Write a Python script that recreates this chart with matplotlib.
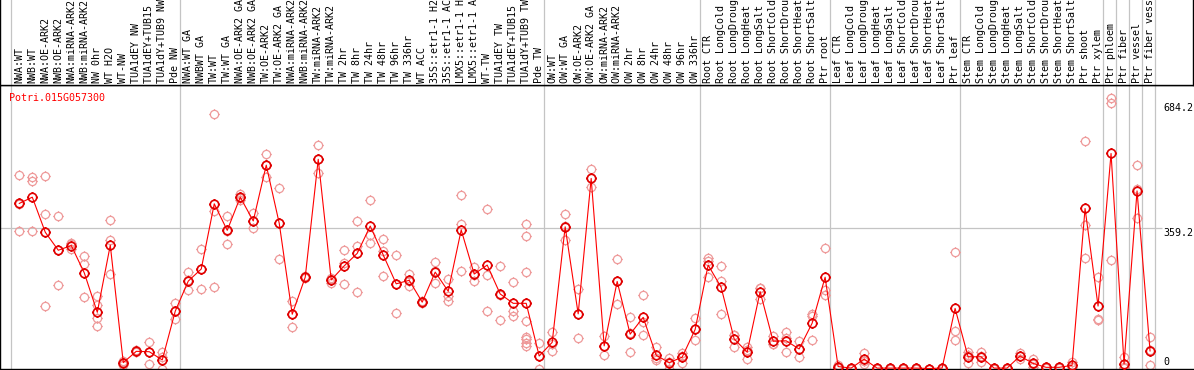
import numpy as np
import matplotlib
matplotlib.use("Agg")
import matplotlib.pyplot as plt
from matplotlib.path import Path

gene = "Potri.015G057300"

labels = [
    "NWA:WT", "NWB:WT", "NWA:OE-ARK2", "NWB:OE-ARK2", "NWA:miRNA-ARK2",
    "NWB:miRNA-ARK2", "NW 0hr", "WT H2O", "WT-NW", "TUA1dEY NW",
    "TUA1dEY+TUB15 NW", "TUA1dY+TUB9 NW", "Pde NW",
    "NWA:WT GA", "NWBWT GA", "TW:WT", "TW:WT GA", "NWA:OE-ARK2 GA",
    "NWB:OE-ARK2 GA", "TW:OE-ARK2", "TW:OE-ARK2 GA", "NWA:miRNA-ARK2 GA",
    "NWB:miRNA-ARK2 GA", "TW:miRNA-ARK2", "TW:miRNA-ARK2 GA", "TW 2hr",
    "TW 8hr", "TW 24hr", "TW 48hr", "TW 96hr", "TW 336hr", "WT ACC",
    "35S::etr1-1 H2O", "35S::etr1-1 ACC", "LMX5::etr1-1 H2O",
    "LMX5::etr1-1 ACC", "WT-TW", "TUA1dEY TW", "TUA1dEY+TUB15 TW",
    "TUA1dY+TUB9 TW", "Pde TW",
    "OW:WT", "OW:WT GA", "OW:OE-ARK2", "OW:OE-ARK2 GA", "OW:miRNA-ARK2",
    "OW:miRNA-ARK2 GA", "OW 2hr", "OW 8hr", "OW 24hr", "OW 48hr", "OW 96hr",
    "OW 336hr",
    "Root CTR", "Root LongCold", "Root LongDrought", "Root LongHeat",
    "Root LongSalt", "Root ShortCold", "Root ShortDrought", "Root ShortHeat",
    "Root ShortSalt", "Ptr root",
    "Leaf CTR", "Leaf LongCold", "Leaf LongDrought", "Leaf LongHeat",
    "Leaf LongSalt", "Leaf ShortCold", "Leaf ShortDrought", "Leaf ShortHeat",
    "Leaf ShortSalt", "Ptr leaf",
    "Stem CTR", "Stem LongCold", "Stem LongDrought", "Stem LongHeat",
    "Stem LongSalt", "Stem ShortCold", "Stem ShortDrought", "Stem ShortHeat",
    "Stem ShortSalt", "Ptr shoot", "Ptr xylem",
    "Ptr phloem", "Ptr fiber", "Ptr vessel", "Ptr fiber vessel",
]

means = [
    423, 439, 349, 303, 315, 245, 144, 316, 15, 44, 43, 22, 147,
    224, 255, 422, 354, 439, 378, 521, 372, 139, 234, 536, 227, 263,
    295, 365, 291, 217, 226, 170, 247, 198, 355, 242, 265, 191, 167,
    167, 32,
    67, 363, 140, 487, 58, 223, 88, 131, 34, 15, 29, 100,
    265, 208, 76, 42, 197, 70, 71, 50, 116, 234,
    5, 1, 24, 1, 1, 1, 1, 0, 1, 154,
    30, 30, 1, 1, 32, 13, 3, 3, 8, 410, 160,
    551, 12, 455, 45,
]

reps = [
    [495, 422, 352], [490, 481, 352], [493, 395, 160], [391, 304, 214],
    [318, 305, 322], [288, 268, 182], [186, 163, 129, 108], [380, 328, 242],
    [20, 16, 9], [47, 44, 41], [68, 43, 12], [42, 30, 0], [169, 147, 126],
    [246, 227, 200], [306, 256, 203], [652, 403, 209], [392, 352, 319],
    [447, 437, 432], [399, 377, 359], [550, 522, 490], [462, 374, 281],
    [172, 139, 106], [236, 234, 232], [573, 536, 500], [232, 230, 220],
    [304, 270, 216], [378, 314, 196], [432, 341, 321], [332, 302, 237],
    [291, 217, 142], [243, 224, 212], [174, 170, 167], [273, 249, 220],
    [229, 186, 172], [444, 369, 249], [261, 240, 225], [408, 240, 147],
    [263, 188, 123], [222, 148, 135],
    [369, 340, 247, 121, 80, 75, 65, 58], [65, 32, 0],
    [93, 63, 45], [395, 364, 329], [203, 140, 77], [510, 488, 464],
    [82, 58, 34], [280, 225, 165], [133, 90, 42], [188, 119, 85],
    [54, 27, 22], [28, 17, 0], [39, 32, 15], [129, 100, 73],
    [284, 276, 235], [263, 223, 140], [86, 86, 55], [56, 48, 24],
    [207, 207, 177], [84, 64, 63], [94, 78, 42], [71, 50, 30],
    [140, 134, 73], [309, 200, 188],
    [8, 5, 2], [2, 1, 0], [39, 20, 12], [1, 1, 0], [2, 1, 0], [2, 1, 0],
    [2, 1, 0], [0, 0, 0], [2, 1, 0], [298, 96, 73],
    [43, 34, 13], [41, 33, 16], [2, 1, 0], [2, 1, 0], [39, 33, 24],
    [24, 12, 3], [5, 3, 1], [5, 3, 1], [17, 5, 3], [584, 368, 282],
    [234, 128, 123],
    [693, 681, 278], [29, 5, 1], [521, 460, 385], [80, 47, 8],
]

# first category index of each block (last entry closes the final block)
group_starts = [0, 13, 41, 53, 63, 73, 84, 85, 86, 87, 88]

ytick_vals = [684.2, 359.2, 0]

W, H = 1194, 370
FONT = "DejaVu Sans Mono"
FS = 7.2


def px_to_x(p):
    # pixel column -> category coordinate
    return (p - 19.3) / 12.997


# circle with four short ticks, like the original bitmap markers
circ = Path.unit_circle()
ticks = []
for ang in [0, 90, 180, 270]:
    c, s = np.cos(np.radians(ang)), np.sin(np.radians(ang))
    ticks.append(Path([(c, s), (1.25 * c, 1.25 * s)],
                      [Path.MOVETO, Path.LINETO]))
mark = Path.make_compound_path(circ, *ticks)

fig = plt.figure(figsize=(W / 100, H / 100), dpi=100)

ax = fig.add_axes([0, 1.5 / H, 1, 283.5 / H])
hx = fig.add_axes([0, 285 / H, 1192.5 / W, 85 / H])

x = np.arange(len(labels))

# replicates
for i, r in enumerate(reps):
    ax.plot([i] * len(r), r, linestyle="none", marker=mark, markersize=7.4,
            markerfacecolor="none", markeredgecolor="#EE9999",
            markeredgewidth=0.9, zorder=2)

ax.plot(x, means, color="#FF0000", lw=0.8, zorder=3)
ax.plot(x, means, linestyle="none", marker=mark, markersize=7.6,
        markerfacecolor="none", markeredgecolor="#E00000",
        markeredgewidth=1.2, zorder=4)

ax.set_xlim(px_to_x(0), px_to_x(W))
ax.set_ylim(0, 726.4)
ax.hlines(359.2, px_to_x(0), px_to_x(1162), color="#C4C4C4", lw=0.9,
          zorder=1)
for g in group_starts:
    ax.axvline(g - 0.65, color="#C4C4C4", lw=0.9, zorder=1)
    hx.axvline(g - 0.65, color="#C4C4C4", lw=0.9, zorder=1)

ax.set_xticks([])
ax.set_yticks([])
ax.spines["right"].set_visible(False)
for s in ["left", "bottom", "top"]:
    ax.spines[s].set_color("black")
    ax.spines[s].set_linewidth(1.0)

# header with the category names
hx.set_xlim(px_to_x(0), px_to_x(1192.5))
hx.set_ylim(0, 85)
hx.set_xticks([])
hx.set_yticks([])
hx.spines["top"].set_visible(False)
for s in ["left", "right", "bottom"]:
    hx.spines[s].set_linewidth(1.0)
for i, lab in enumerate(labels):
    hx.text(i, 2, lab, rotation=90, ha="center", va="bottom",
            family=FONT, fontsize=FS, color="black")

fig.text(9.5 / W, 1 - 101 / H, gene, color="#FF0000", family=FONT,
         fontsize=FS, ha="left", va="baseline")

# value labels on the right
for v, base in zip(ytick_vals, [111, 236, 365]):
    fig.text(1163 / W, 1 - base / H, f"{v:g}", family=FONT, fontsize=FS,
             ha="left", va="baseline", color="black")

fig.savefig("out.png", dpi=100)
